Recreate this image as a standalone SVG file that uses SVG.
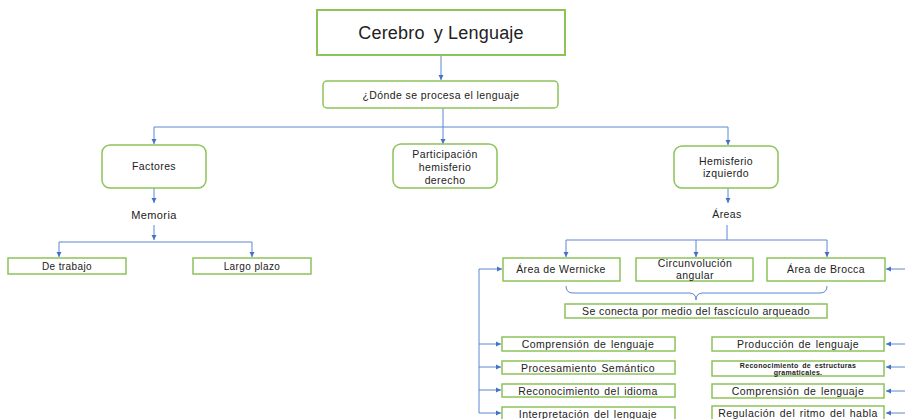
<svg xmlns="http://www.w3.org/2000/svg" width="905" height="419" viewBox="0 0 905 419">
<defs>
<marker id="ar" markerWidth="6" markerHeight="6" refX="5" refY="3" orient="auto" markerUnits="userSpaceOnUse">
<path d="M0,0.5 L5,3 L0,5.5 Z" fill="#4472c4"/>
</marker>
<style>
.bx{fill:#fff;stroke:#8cc45a;stroke-width:1.5}
.c{fill:none;stroke:#5b86d0;stroke-width:1}
.a{fill:none;stroke:#5b86d0;stroke-width:1;marker-end:url(#ar)}
.t{font-family:"Liberation Sans",Arial,sans-serif;font-size:10.5px;letter-spacing:0.4px;fill:#222;text-anchor:middle}
.b{font-size:10.5px;letter-spacing:0.45px;word-spacing:1.2px}
.s{font-size:10px;letter-spacing:0.4px}
.m{font-size:7px;font-weight:bold;letter-spacing:0.3px;word-spacing:1.5px}
</style>
</defs>
<rect width="905" height="419" fill="#fff"/>
<g id="connectors">
<path class="a" d="M441 55 V80"/>
<path class="c" d="M443 108 V127 M154 127 H728"/>
<path class="a" d="M154 127 V144"/>
<path class="a" d="M443 127 V144"/>
<path class="a" d="M728 127 V145"/>
<path class="a" d="M154 188 V203"/>
<path class="a" d="M154 225 V240"/>
<path class="c" d="M59 242 H252"/>
<path class="a" d="M59 242 V257"/>
<path class="a" d="M252 242 V257"/>
<path class="a" d="M728 188 V203"/>
<path class="c" d="M727 225 V240 M566 240 H827"/>
<path class="a" d="M566 240 V257"/>
<path class="a" d="M696 240 V257"/>
<path class="a" d="M827 240 V257"/>
<path class="c" d="M566 286 Q566 293 573 293 H689 Q696 293 696 300 Q696 293 703 293 H820 Q827 293 827 286"/>
<path class="c" d="M479 269 V413"/>
<path class="a" d="M479 269 H502"/>
<path class="a" d="M479 344 H501"/>
<path class="a" d="M479 367 H501"/>
<path class="a" d="M479 390 H501"/>
<path class="a" d="M479 413 H501"/>
<path class="a" d="M905 269 H886"/>
<path class="a" d="M905 344 H886"/>
<path class="a" d="M905 367 H886"/>
<path class="a" d="M905 391 H886"/>
<path class="a" d="M905 413 H886"/>
</g>
<g id="title"><rect class="bx" x="317" y="10" width="248" height="45" style="stroke-width:2"/><text class="t" x="441" y="39" style="font-size:18px;letter-spacing:0.2px"><tspan>Cerebro</tspan><tspan dx="9">y Lenguaje</tspan></text></g>
<g id="donde"><rect class="bx" x="323" y="81" width="235" height="27" rx="4"/><text class="t" x="441" y="98.5">¿Dónde se procesa el lenguaje</text></g>
<g id="factores"><rect class="bx" x="102" y="145" width="104" height="43" rx="8"/><text class="t" x="154" y="170">Factores</text></g>
<g id="participacion"><rect class="bx" x="393" y="144" width="104" height="44" rx="8"/><text class="t" x="445" y="158">Participación</text><text class="t" x="445" y="171">hemisferio</text><text class="t" x="445" y="184">derecho</text></g>
<g id="hemisferio"><rect class="bx" x="674" y="146" width="104" height="42" rx="8"/><text class="t" x="726" y="165">Hemisferio</text><text class="t" x="726" y="177">izquierdo</text></g>
<g id="memoria"><text class="t" x="154" y="219" style="font-size:11px">Memoria</text></g>
<g id="areas"><text class="t" x="727" y="218">Áreas</text></g>
<g id="trabajo"><rect class="bx" x="8" y="258" width="118" height="16"/><text class="t s" x="67" y="269.5">De trabajo</text></g>
<g id="largo"><rect class="bx" x="193" y="258" width="118" height="16"/><text class="t s" x="252" y="269.5">Largo plazo</text></g>
<g id="wernicke"><rect class="bx" x="503" y="258" width="117" height="23"/><text class="t" x="561" y="273">Área de Wernicke</text></g>
<g id="circunvolucion"><rect class="bx" x="636" y="258" width="117" height="23"/><text class="t" x="695" y="267">Circunvolución</text><text class="t" x="695" y="279">angular</text></g>
<g id="brocca"><rect class="bx" x="767" y="258" width="118" height="23"/><text class="t" x="826" y="273">Área de Brocca</text></g>
<g id="fasciculo"><rect class="bx" x="565" y="304" width="262" height="14"/><text class="t" x="696" y="315">Se conecta por medio del fascículo arqueado</text></g>
<g id="l1"><rect class="bx" x="502" y="337" width="173" height="14"/><text class="t b" x="588" y="348">Comprensión de lenguaje</text></g>
<g id="l2"><rect class="bx" x="502" y="361" width="173" height="13"/><text class="t b" x="588" y="371.5">Procesamiento Semántico</text></g>
<g id="l3"><rect class="bx" x="502" y="384" width="173" height="13"/><text class="t b" x="588" y="394.5">Reconocimiento del idioma</text></g>
<g id="l4"><rect class="bx" x="502" y="407" width="173" height="13"/><text class="t b" x="588" y="417.5">Interpretación del lenguaje</text></g>
<g id="r1"><rect class="bx" x="712" y="337" width="172" height="14"/><text class="t b" x="798" y="348">Producción de lenguaje</text></g>
<g id="r2"><rect class="bx" x="712" y="361" width="172" height="15"/><text class="t m" x="798" y="367.5">Reconocimiento de estructuras</text><text class="t m" x="798" y="374.5">gramaticales.</text></g>
<g id="r3"><rect class="bx" x="712" y="384" width="172" height="14"/><text class="t b" x="798" y="395">Comprensión de lenguaje</text></g>
<g id="r4"><rect class="bx" x="712" y="406" width="172" height="14"/><text class="t b" x="798" y="417">Regulación del ritmo del habla</text></g>
</svg>
